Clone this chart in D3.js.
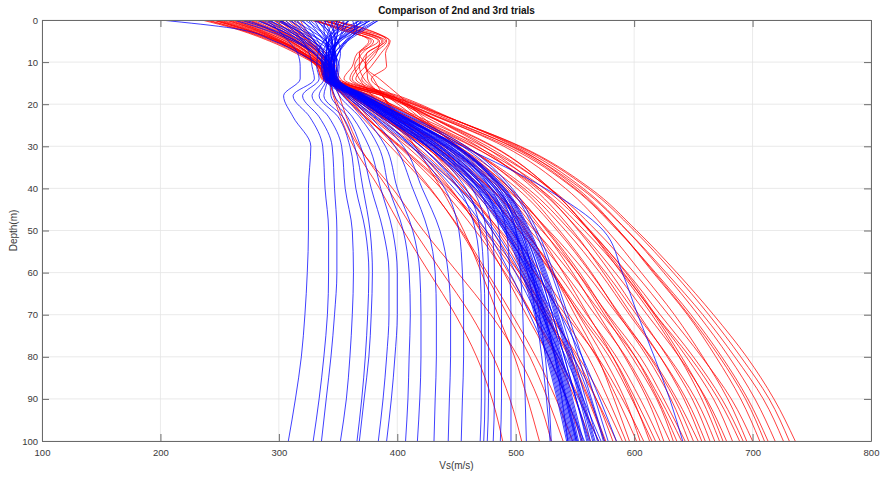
<!DOCTYPE html>
<html>
<head>
<meta charset="utf-8">
<script src="https://cdn.jsdelivr.net/npm/d3@7"></script>
<style>
  body { margin: 0; background: #fff; }
  svg { display: block; font-family: "Liberation Sans", Arial, Helvetica, sans-serif; }
</style>
</head>
<body>
<svg id="chart" width="881" height="477"></svg>
<script>
// Depth nodes (m) at which every Vs profile is sampled
const depths = [0, 2, 5, 8, 11, 14, 18, 23, 30, 40, 50, 60, 70, 80, 90, 100];

const xTickValues = [100, 200, 300, 400, 500, 600, 700, 800];
const yTickValues = [0, 10, 20, 30, 40, 50, 60, 70, 80, 90, 100];

// 2nd trial profiles (Vs in m/s at each depth node)
const redProfiles = [
  [235, 262, 292, 315, 333, 342, 393, 441, 504, 563, 602, 636, 667, 695, 718, 736],
  [288, 300, 316, 330, 340, 345, 395, 442, 503, 561, 600, 633, 663, 690, 714, 731],
  [262, 280, 303, 322, 334, 338, 388, 435, 497, 555, 594, 627, 658, 685, 709, 726],
  [310, 316, 326, 336, 344, 350, 398, 442, 501, 557, 594, 625, 654, 680, 702, 719],
  [245, 268, 300, 322, 336, 340, 388, 433, 493, 549, 586, 618, 648, 674, 696, 713],
  [330, 350, 378, 366, 362, 355, 401, 443, 499, 552, 587, 616, 645, 669, 690, 706],
  [275, 290, 310, 326, 338, 343, 379, 418, 472, 529, 568, 600, 629, 657, 682, 700],
  [300, 308, 322, 333, 342, 347, 392, 434, 490, 542, 577, 606, 634, 658, 679, 695],
  [250, 272, 298, 318, 332, 336, 371, 410, 463, 520, 558, 590, 618, 647, 671, 689],
  [334, 362, 388, 378, 366, 360, 392, 428, 476, 528, 563, 593, 618, 644, 667, 683],
  [270, 288, 312, 330, 340, 344, 377, 414, 464, 518, 554, 584, 611, 638, 661, 678],
  [295, 306, 320, 334, 343, 348, 390, 429, 481, 529, 562, 589, 615, 638, 657, 672],
  [240, 265, 296, 318, 334, 339, 372, 408, 457, 510, 546, 576, 602, 629, 652, 668],
  [338, 356, 385, 382, 373, 365, 395, 428, 473, 520, 553, 580, 604, 628, 649, 664],
  [282, 296, 314, 328, 337, 341, 373, 408, 456, 507, 542, 571, 596, 622, 644, 660],
  [305, 313, 324, 334, 342, 346, 371, 398, 441, 491, 528, 559, 586, 614, 636, 654],
  [318, 322, 330, 340, 348, 352, 381, 414, 458, 505, 537, 564, 587, 611, 631, 646],
  [255, 276, 300, 320, 332, 337, 361, 389, 431, 479, 516, 546, 573, 601, 622, 640],
  [342, 370, 393, 386, 378, 370, 391, 415, 452, 495, 527, 554, 577, 601, 620, 636],
  [266, 284, 308, 325, 337, 343, 366, 392, 432, 478, 512, 541, 567, 593, 613, 630],
  [298, 310, 324, 336, 345, 349, 377, 407, 448, 493, 523, 548, 570, 592, 611, 625],
  [238, 264, 294, 317, 333, 338, 360, 386, 425, 470, 503, 531, 556, 582, 601, 618],
  [345, 366, 394, 390, 391, 378, 397, 418, 451, 488, 517, 540, 561, 582, 599, 613],
  [285, 298, 316, 330, 340, 345, 361, 379, 411, 453, 487, 516, 542, 569, 590, 608],
  [258, 278, 302, 322, 336, 342, 363, 386, 423, 464, 495, 521, 545, 568, 586, 602],
  [340, 360, 390, 374, 373, 385, 402, 421, 450, 484, 509, 531, 550, 569, 583, 596],
  [248, 270, 299, 320, 334, 340, 355, 373, 403, 443, 475, 503, 528, 553, 573, 590],
  [308, 315, 326, 336, 343, 347, 366, 387, 420, 457, 486, 509, 530, 551, 568, 582],
  [326, 352, 376, 368, 374, 375, 387, 401, 425, 457, 484, 506, 526, 546, 562, 576],
  [278, 294, 314, 329, 339, 344, 358, 373, 401, 437, 466, 491, 514, 536, 554, 570],
  [264, 282, 305, 322, 334, 339, 357, 377, 408, 444, 471, 494, 514, 534, 550, 563],
  [332, 348, 380, 370, 364, 368, 379, 392, 415, 445, 470, 490, 509, 528, 543, 556],
  [292, 303, 318, 330, 339, 343, 355, 370, 394, 427, 454, 476, 497, 517, 534, 548],
  [315, 320, 330, 340, 346, 350, 361, 375, 398, 428, 453, 474, 493, 512, 527, 540],
  [252, 274, 301, 320, 334, 341, 347, 354, 367, 396, 422, 451, 479, 502, 519, 530],
  [344, 372, 391, 380, 373, 380, 388, 398, 415, 437, 456, 471, 485, 499, 510, 520],
  [302, 310, 322, 334, 342, 346, 351, 357, 368, 392, 414, 438, 462, 481, 495, 505],
  [272, 290, 310, 326, 337, 342, 346, 352, 363, 385, 405, 427, 449, 467, 480, 489],
  [268, 286, 309, 326, 338, 344, 362, 383, 416, 453, 480, 503, 524, 545, 561, 575],
  [296, 306, 320, 331, 337, 341, 356, 373, 402, 441, 473, 500, 524, 548, 568, 585],
  [246, 270, 300, 322, 338, 346, 366, 388, 423, 462, 492, 516, 539, 561, 578, 593],
  [312, 318, 328, 336, 341, 343, 369, 398, 437, 479, 508, 532, 553, 574, 592, 605],
  [328, 354, 384, 368, 368, 372, 387, 404, 433, 472, 503, 530, 554, 579, 598, 615],
  [260, 280, 306, 324, 335, 340, 363, 388, 427, 473, 506, 535, 560, 585, 605, 622],
  [284, 297, 315, 330, 340, 345, 374, 405, 449, 495, 526, 552, 575, 598, 619, 633],
  [302, 312, 325, 336, 344, 348, 372, 398, 439, 487, 522, 552, 578, 605, 625, 643],
  [244, 268, 297, 319, 334, 339, 370, 404, 451, 501, 535, 563, 588, 613, 634, 650],
  [336, 360, 387, 374, 368, 362, 392, 424, 468, 515, 548, 574, 598, 622, 642, 657],
  [276, 292, 312, 328, 339, 344, 387, 427, 480, 529, 562, 591, 617, 640, 660, 675],
  [256, 277, 302, 321, 335, 341, 376, 415, 467, 524, 562, 594, 622, 650, 674, 692],
  [290, 302, 318, 331, 341, 347, 394, 438, 496, 550, 587, 617, 646, 672, 694, 710]
];

// 3rd trial profiles (Vs in m/s at each depth node)
const blueProfiles = [
  [290, 298, 308, 316, 318, 318, 304, 312, 327, 325, 325, 324, 322, 319, 314, 308],
  [300, 310, 320, 326, 328, 330, 312, 326, 337, 339, 342, 342, 341, 338, 334, 329],
  [360, 350, 338, 333, 332, 334, 320, 334, 345, 347, 349, 349, 347, 344, 340, 336],
  [378, 365, 350, 342, 338, 338, 328, 342, 353, 356, 362, 363, 362, 360, 357, 352],
  [272, 292, 315, 330, 338, 340, 334, 350, 360, 365, 373, 376, 375, 373, 370, 366],
  [320, 326, 333, 338, 340, 341, 338, 354, 364, 371, 377, 379, 378, 376, 372, 368],
  [340, 338, 340, 342, 342, 343, 344, 358, 369, 378, 388, 393, 393, 391, 388, 384],
  [385, 372, 356, 347, 343, 344, 347, 362, 376, 386, 396, 400, 400, 398, 395, 391],
  [262, 285, 312, 330, 340, 345, 351, 368, 384, 393, 405, 410, 411, 410, 409, 407],
  [350, 346, 342, 342, 343, 344, 354, 372, 390, 400, 413, 419, 420, 420, 419, 417],
  [310, 318, 330, 338, 344, 346, 357, 377, 398, 413, 426, 432, 433, 433, 432, 431],
  [368, 360, 350, 346, 344, 345, 359, 381, 405, 421, 436, 443, 445, 445, 444, 443],
  [200, 262, 296, 318, 336, 347, 361, 385, 412, 440, 452, 455, 456, 456, 455, 454],
  [330, 334, 340, 344, 345, 346, 364, 390, 420, 452, 466, 470, 471, 471, 471, 470],
  [375, 370, 357, 350, 346, 348, 366, 394, 426, 458, 470, 473, 474, 474, 474, 473],
  [305, 314, 326, 336, 344, 347, 367, 397, 431, 463, 475, 477, 477, 477, 477, 476],
  [345, 350, 348, 346, 346, 349, 369, 400, 436, 468, 480, 482, 482, 482, 482, 481],
  [282, 298, 318, 332, 343, 348, 370, 402, 440, 473, 486, 488, 488, 488, 488, 487],
  [362, 364, 356, 350, 347, 350, 372, 405, 445, 479, 492, 495, 496, 496, 496, 496],
  [325, 330, 338, 344, 347, 349, 373, 407, 450, 486, 500, 504, 506, 507, 508, 509],
  [315, 322, 330, 335, 338, 340, 362, 390, 426, 466, 492, 510, 526, 542, 557, 572],
  [372, 362, 350, 342, 340, 342, 362, 388, 425, 465, 490, 505, 516, 526, 535, 543],
  [292, 305, 322, 335, 342, 344, 366, 395, 435, 475, 498, 512, 523, 533, 542, 550],
  [352, 348, 342, 340, 339, 341, 364, 392, 430, 470, 494, 509, 520, 530, 539, 547],
  [335, 340, 345, 345, 344, 345, 368, 398, 440, 480, 502, 516, 527, 537, 546, 555],
  [382, 370, 352, 343, 338, 339, 366, 398, 442, 482, 500, 510, 517, 522, 526, 529],
  [300, 312, 328, 340, 345, 346, 370, 402, 445, 486, 507, 520, 531, 541, 551, 560],
  [358, 356, 350, 345, 342, 343, 365, 393, 432, 472, 496, 511, 522, 532, 541, 549],
  [322, 332, 343, 347, 347, 347, 372, 405, 450, 490, 510, 524, 535, 546, 556, 566],
  [268, 290, 314, 330, 338, 340, 358, 382, 414, 452, 482, 504, 522, 538, 551, 562],
  [365, 366, 358, 350, 345, 344, 367, 396, 437, 477, 500, 514, 525, 535, 544, 552],
  [312, 324, 340, 348, 349, 348, 365, 390, 425, 463, 490, 512, 532, 549, 563, 574],
  [346, 343, 340, 340, 341, 342, 363, 390, 428, 468, 492, 507, 518, 528, 537, 545],
  [280, 298, 320, 336, 344, 345, 369, 400, 442, 483, 505, 518, 529, 539, 548, 557],
  [376, 360, 345, 340, 339, 341, 372, 406, 450, 488, 505, 514, 520, 525, 528, 530],
  [330, 340, 350, 352, 350, 349, 376, 412, 458, 497, 518, 532, 544, 556, 567, 578],
  [355, 350, 345, 343, 342, 343, 366, 394, 434, 474, 497, 512, 523, 533, 542, 551],
  [308, 320, 336, 344, 346, 346, 371, 403, 447, 488, 508, 522, 533, 544, 554, 563],
  [370, 355, 342, 337, 336, 338, 356, 380, 412, 448, 475, 495, 512, 528, 543, 558],
  [340, 345, 348, 346, 344, 344, 368, 397, 439, 479, 501, 515, 526, 536, 545, 553],
  [296, 312, 332, 346, 351, 350, 370, 396, 432, 470, 497, 518, 538, 556, 571, 585],
  [384, 374, 358, 346, 341, 342, 364, 391, 429, 469, 493, 508, 519, 529, 538, 546],
  [326, 334, 344, 348, 347, 347, 373, 406, 451, 491, 512, 526, 538, 549, 559, 569],
  [360, 352, 343, 340, 339, 340, 362, 389, 426, 466, 491, 506, 517, 527, 536, 544],
  [286, 302, 324, 338, 344, 345, 370, 401, 443, 484, 506, 520, 531, 541, 551, 561],
  [348, 350, 348, 345, 343, 343, 367, 396, 436, 476, 499, 513, 524, 534, 543, 552],
  [370, 364, 352, 344, 340, 341, 368, 400, 444, 484, 503, 515, 525, 533, 539, 544],
  [318, 328, 340, 346, 346, 346, 372, 404, 448, 489, 509, 523, 534, 545, 555, 565],
  [338, 342, 345, 345, 344, 344, 366, 395, 434, 474, 498, 513, 524, 534, 543, 551],
  [300, 316, 336, 348, 349, 348, 375, 410, 455, 495, 516, 530, 542, 553, 564, 575],
  [378, 366, 350, 341, 337, 339, 360, 386, 420, 455, 480, 500, 518, 536, 553, 570],
  [332, 338, 345, 347, 346, 345, 369, 399, 441, 482, 504, 517, 528, 538, 547, 556],
  [355, 354, 350, 346, 343, 343, 365, 392, 431, 471, 495, 510, 521, 531, 540, 548],
  [290, 306, 328, 342, 347, 347, 372, 404, 449, 490, 511, 525, 536, 547, 557, 567],
  [344, 346, 347, 347, 346, 346, 370, 402, 455, 525, 574, 590, 603, 617, 630, 641]
];

const W = 881, H = 477;
const plot = { left: 42, right: 871, top: 20, bottom: 441 };

const svg = d3.select('#chart');
svg.append('rect').attr('width', W).attr('height', H).attr('fill', '#fff');

const x = d3.scaleLinear().domain([100, 800]).range([plot.left, plot.right]);
const y = d3.scaleLinear().domain([0, 100]).range([plot.top, plot.bottom]);

// Grid
const grid = svg.append('g').attr('stroke', '#e4e4e4').attr('stroke-width', 0.8);
grid.selectAll('line.gx').data(xTickValues).join('line')
  .attr('x1', d => x(d)).attr('x2', d => x(d))
  .attr('y1', plot.top).attr('y2', plot.bottom);
grid.selectAll('line.gy').data(yTickValues).join('line')
  .attr('y1', d => y(d)).attr('y2', d => y(d))
  .attr('x1', plot.left).attr('x2', plot.right);

// Clip region for the profiles
svg.append('clipPath').attr('id', 'plotClip')
  .append('rect')
  .attr('x', plot.left).attr('y', plot.top)
  .attr('width', plot.right - plot.left).attr('height', plot.bottom - plot.top);

const line = d3.line()
  .x(v => x(v))
  .y((v, i) => y(depths[i]))
  .curve(d3.curveMonotoneY);

const profiles = svg.append('g').attr('clip-path', 'url(#plotClip)')
  .attr('fill', 'none').attr('stroke-width', 0.75).attr('stroke-linejoin', 'round');

profiles.append('g').attr('stroke', '#ff0000')
  .selectAll('path').data(redProfiles).join('path').attr('d', line);

profiles.append('g').attr('stroke', '#0000ff')
  .selectAll('path').data(blueProfiles).join('path').attr('d', line);

// Axes (box with inward ticks on all four sides)
const axisColor = '#6a6a6a';
const textColor = '#3a3a3a';
const fmt = d3.format('d');

function styleAxis(g) {
  g.selectAll('.domain').attr('stroke', axisColor).attr('stroke-width', 1);
  g.selectAll('.tick line').attr('stroke', axisColor).attr('stroke-width', 1);
  g.selectAll('.tick text').attr('fill', textColor).style('font-size', '9.5px');
}

svg.append('g').attr('transform', `translate(0,${plot.bottom})`)
  .call(d3.axisBottom(x).tickValues(xTickValues).tickFormat(fmt).tickSizeInner(-7).tickSizeOuter(0).tickPadding(8))
  .call(styleAxis);

svg.append('g').attr('transform', `translate(${plot.left},0)`)
  .call(d3.axisLeft(y).tickValues(yTickValues).tickFormat(fmt).tickSizeInner(-7).tickSizeOuter(0).tickPadding(4))
  .call(styleAxis);

svg.append('g').attr('transform', `translate(0,${plot.top})`)
  .call(d3.axisTop(x).tickValues(xTickValues).tickFormat('').tickSizeInner(-7).tickSizeOuter(0))
  .call(styleAxis);

svg.append('g').attr('transform', `translate(${plot.right},0)`)
  .call(d3.axisRight(y).tickValues(yTickValues).tickFormat('').tickSizeInner(-7).tickSizeOuter(0))
  .call(styleAxis);

// Title and axis labels
svg.append('text')
  .attr('x', (plot.left + plot.right) / 2).attr('y', 14)
  .attr('text-anchor', 'middle')
  .style('font-size', '10px').style('font-weight', 'bold').attr('fill', '#111')
  .text('Comparison of 2nd and 3rd trials');

svg.append('text')
  .attr('x', (plot.left + plot.right) / 2).attr('y', 469)
  .attr('text-anchor', 'middle')
  .style('font-size', '10px').attr('fill', textColor)
  .text('Vs(m/s)');

svg.append('text')
  .attr('transform', `translate(17,${(plot.top + plot.bottom) / 2}) rotate(-90)`)
  .attr('text-anchor', 'middle')
  .style('font-size', '10px').attr('fill', textColor)
  .text('Depth(m)');
</script>
</body>
</html>
